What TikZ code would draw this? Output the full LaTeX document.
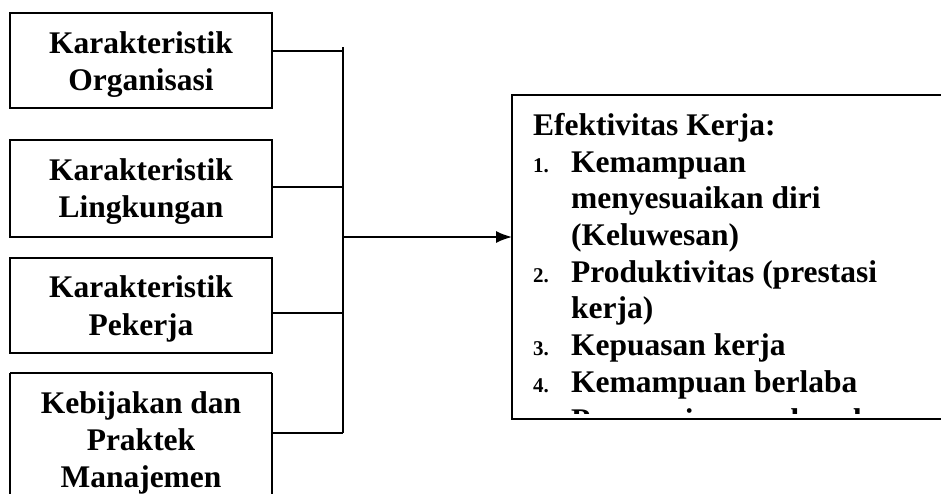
\documentclass[tikz,border=0pt]{standalone}
\usepackage{fontspec}
\setmainfont{Liberation Serif}
\usetikzlibrary{arrows.meta}
\begin{document}
\begin{tikzpicture}[x=1pt,y=-1pt,
  lbox/.style={draw,line width=1.6pt,rectangle,inner sep=0pt},
  txt/.style={anchor=base,inner sep=0pt,font=\fontsize{31.5}{37}\selectfont\bfseries},
  ltxt/.style={txt,anchor=base west},
  num/.style={anchor=base west,inner sep=0pt,font=\fontsize{21}{25}\selectfont\bfseries},
  wire/.style={line width=1.6pt}]
\useasboundingbox (0,0) rectangle (941,493);
\clip (0,0) rectangle (941,493);
\fill[white] (0,0) rectangle (941,493);
% left boxes
\draw[lbox] (10,13) rectangle (272,108);
\draw[lbox] (10,140) rectangle (272,237);
\draw[lbox] (10,258) rectangle (272,353);
\draw[lbox] (10,373) -- (10,500) (272,373) -- (272,500) (10,373) -- (272,373);
\coordinate (b1) at (272,51);
\coordinate (b2) at (272,187);
\coordinate (b3) at (272,313);
\coordinate (b4) at (272,433);
\node[txt] (t1a) at (141,53) {Karakteristik};
\node[txt] (t1b) at (141,90) {Organisasi};
\node[txt] (t2a) at (141,180) {Karakteristik};
\node[txt] (t2b) at (141,217) {Lingkungan};
\node[txt] (t3a) at (141,297) {Karakteristik};
\node[txt] (t3b) at (141,335) {Pekerja};
\node[txt] (t4a) at (141,413) {Kebijakan dan};
\node[txt] (t4b) at (141,450) {Praktek};
\node[txt] (t4c) at (141,487) {Manajemen};
% connectors
\coordinate (v1) at (343,51);
\coordinate (v2) at (343,187);
\coordinate (v3) at (343,313);
\coordinate (v4) at (343,433);
\coordinate (vm) at (343,237);
\coordinate (vt) at (343,47);
\draw[wire] (b1) -- (v1);
\draw[wire] (b2) -- (v2);
\draw[wire] (b3) -- (v3);
\draw[wire] (b4) -- (v4);
\draw[wire] (vt) -- (v4);
% right box
\coordinate (rb) at (512,237);
\draw[lbox] (960,95) -- (512,95) -- (512,419) -- (960,419);
\draw[wire,-{Latex[length=16pt,width=12pt]}] (vm) -- (rb);
\begin{scope}
\clip (513,96) rectangle (960,413);
\node[ltxt] (e0) at (533,135) {Efektivitas Kerja:};
\node[num] (n1) at (533,172) {1.};
\node[ltxt] (e1) at (571,172) {Kemampuan};
\node[ltxt] (e1b) at (571,208) {menyesuaikan diri};
\node[ltxt] (e1c) at (571,245) {(Keluwesan)};
\node[num] (n2) at (533,282) {2.};
\node[ltxt] (e2) at (571,282) {Produktivitas (prestasi};
\node[ltxt] (e2b) at (571,318) {kerja)};
\node[num] (n3) at (533,355) {3.};
\node[ltxt] (e3) at (571,355) {Kepuasan kerja};
\node[num] (n4) at (533,392) {4.};
\node[ltxt] (e4) at (571,392) {Kemampuan berlaba};
\node[num] (n5) at (533,430) {5.};
\node[ltxt] (e5) at (571,430) {Pencapaian sumber daya};
\end{scope}
\end{tikzpicture}
\end{document}
